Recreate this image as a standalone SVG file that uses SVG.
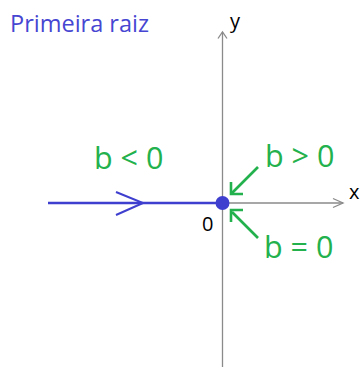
<svg xmlns="http://www.w3.org/2000/svg" width="363" height="367" viewBox="0 0 363 367">
<style>
.axis{stroke:#8a8a8a;stroke-width:1.3;fill:none}
.g{fill:#22b14c;font-family:"Open Sans","Noto Sans",sans-serif;font-size:30.5px}
.garr{stroke:#22b14c;stroke-width:2.6;fill:none}
.lbl{fill:#000;font-family:"Open Sans","Noto Sans",sans-serif;font-size:20px}
</style>
<rect width="363" height="367" fill="#fff"/>
<text x="10" y="32" font-family="Open Sans, Noto Sans, sans-serif" font-size="23.5" fill="#4646d2">Primeira raiz</text>
<g id="axes">
<line class="axis" x1="48" y1="203" x2="343" y2="203"/>
<polyline class="axis" points="333,198.5 343,203 333,207.5"/>
<line class="axis" x1="222.5" y1="32" x2="222.5" y2="367"/>
<polyline class="axis" points="218,38.5 222.5,32 227,38.5"/>
<text class="lbl" x="349" y="199">x</text>
<text class="lbl" x="230" y="28">y</text>
<text class="lbl" x="202" y="231">0</text>
</g>
<g id="path-blue">
<line x1="48" y1="203" x2="222.5" y2="203" stroke="#3f3fcf" stroke-width="2.4"/>
<polyline points="116,192 143,203 116,215" fill="none" stroke="#3f3fcf" stroke-width="2"/>
<circle cx="222.5" cy="203" r="7" fill="#3f3fcf"/>
</g>
<g id="connectors">
<line class="garr" x1="258" y1="167" x2="232" y2="193"/>
<polyline class="garr" points="231,182 231,194 243,194"/>
<line class="garr" x1="258" y1="238" x2="232" y2="212"/>
<polyline class="garr" points="231,222 231,210 243,210"/>
</g>
<text class="g" x="94" y="169">b &lt; 0</text>
<text class="g" x="265" y="167">b &gt; 0</text>
<text class="g" x="264" y="258">b = 0</text>
</svg>
